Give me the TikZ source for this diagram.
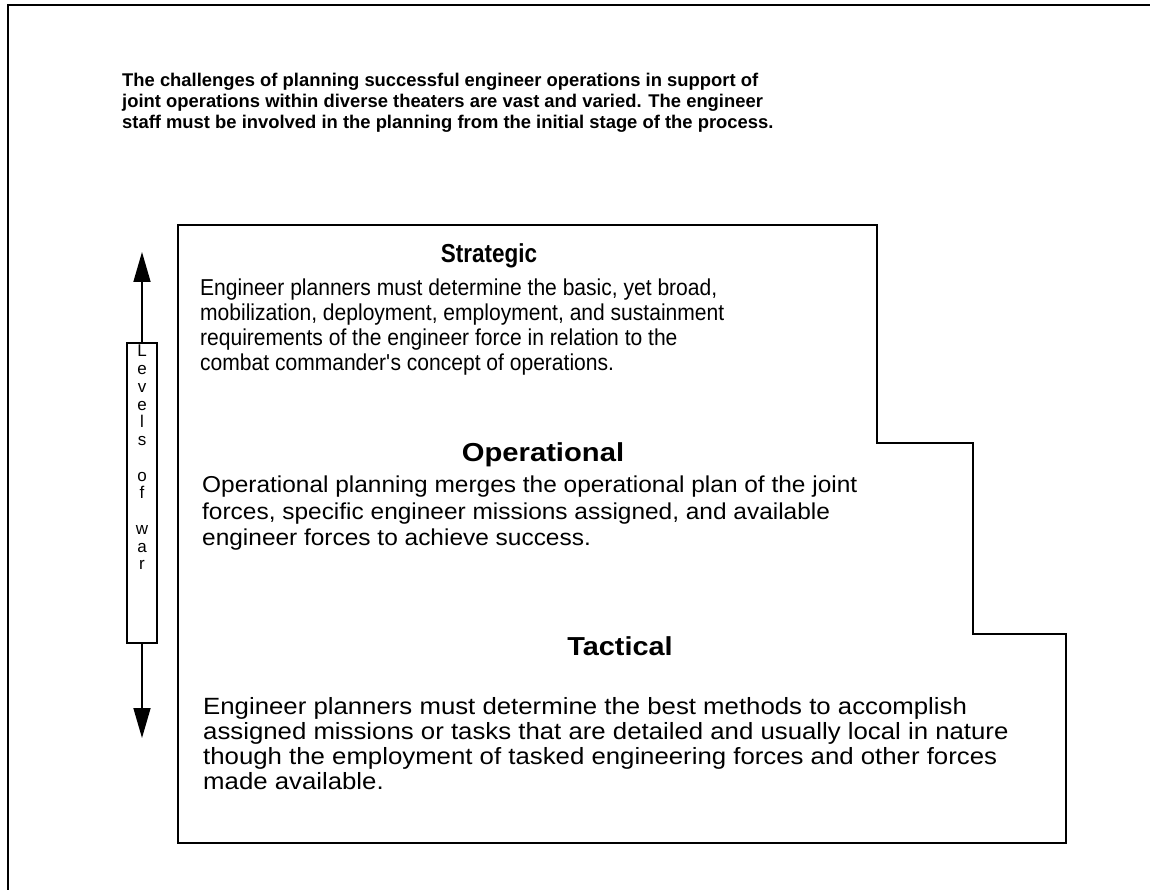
\documentclass[tikz,border=0pt]{standalone}
\usepackage{fontspec}
\setmainfont{Liberation Sans}
\newfontfamily\strheadfont[FakeStretch=0.865]{Liberation Sans}
\newfontfamily\strbodyfont[FakeStretch=0.915]{Liberation Sans}
\newfontfamily\opheadfont[FakeStretch=1.123]{Liberation Sans}
\newfontfamily\opbodyfont[FakeStretch=1.063]{Liberation Sans}
\newfontfamily\tacheadfont[FakeStretch=1.11]{Liberation Sans}
\newfontfamily\tacbodyfont[FakeStretch=1.097]{Liberation Sans}
\usetikzlibrary{arrows.meta}
\tikzset{
  frameline/.style={line width=2pt},
  intro/.style={anchor=north west, inner sep=0pt, align=left, font=\bfseries\fontsize{18.4}{21}\selectfont},
  levelhead/.style={inner sep=0pt},
  levelbody/.style={anchor=north west, inner sep=0pt, align=left},
  lwbox/.style={draw, line width=2pt, minimum width=30pt, minimum height=300pt, inner sep=0pt},
  lwtext/.style={anchor=north, inner sep=0pt, align=center, font=\fontsize{17}{17.75}\selectfont},
  arr/.style={line width=1.6pt, -{Triangle[length=30pt,width=17pt]}}
}
\begin{document}
\begin{tikzpicture}[x=1pt,y=-1pt]
\useasboundingbox (0,0) rectangle (1150,890);
% outer frame (clipped at right and bottom)
\draw[frameline] (8,891) -- (8,5) -- (1151,5);
% staircase
\draw[frameline, line join=miter] (178,225) -- (877,225) -- (877,443) -- (973,443) -- (973,634) -- (1066,634) -- (1066,843) -- (178,843) -- cycle;
% intro text
\node[intro] (intro) at (122,73) {The challenges of planning successful engineer operations in support of\\joint operations within diverse theaters are vast and varied. The engineer\\staff must be involved in the planning from the initial stage of the process.};
% strategic
\node[levelhead, font=\strheadfont\bfseries\fontsize{26}{30}\selectfont] (strh) at (489,256) {Strategic};
\node[levelbody, font=\strbodyfont\fontsize{23}{25}\selectfont] (strb) at (200,279) {Engineer planners must determine the basic, yet broad,\\mobilization, deployment, employment, and sustainment\\requirements of the engineer force in relation to the\\combat commander\textquotesingle s concept of operations.};
% operational
\node[levelhead, font=\opheadfont\bfseries\fontsize{26}{30}\selectfont] (oph) at (543,455) {Operational};
\node[levelbody, font=\opbodyfont\fontsize{23}{26.5}\selectfont] (opb) at (202,476) {Operational planning merges the operational plan of the joint\\forces, specific engineer missions assigned, and available\\engineer forces to achieve success.};
% tactical
\node[levelhead, font=\tacheadfont\bfseries\fontsize{26}{30}\selectfont] (tach) at (620,646) {Tactical};
\node[levelbody, font=\tacbodyfont\fontsize{23.5}{25}\selectfont] (tacb) at (203,697) {Engineer planners must determine the best methods to accomplish\\assigned missions or tasks that are detailed and usually local in nature\\though the employment of tasked engineering forces and other forces\\made available.};
% levels of war
\node[lwbox] (lwbox) at (142,493) {};
\node[lwtext] (lwtext) at (142,345) {L\\e\\v\\e\\l\\s\\[17.75pt]o\\f\\[17.75pt]w\\a\\r};
\coordinate (uptip) at (142,252);
\coordinate (downtip) at (142,738);
\draw[arr] (lwbox.north) -- (uptip);
\draw[arr] (lwbox.south) -- (downtip);
\end{tikzpicture}
\end{document}
